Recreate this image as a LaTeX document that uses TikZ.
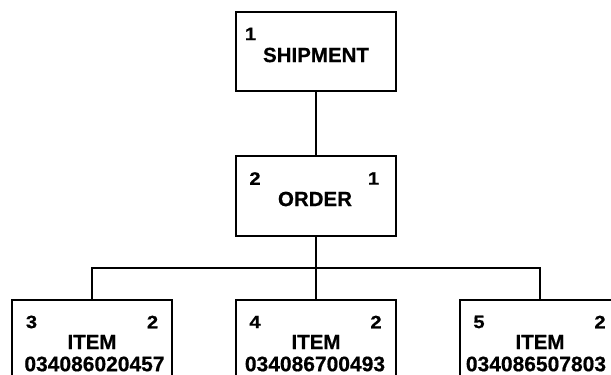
\documentclass[tikz,border=0pt]{standalone}
\usepackage{fontspec}
\setmainfont{Liberation Sans}
\newfontfamily\numfont[FakeStretch=1.12,FakeBold=0.6]{Liberation Sans}
\newfontfamily\codefont[FakeBold=0.6]{Liberation Sans}
\newfontfamily\titlefont[FakeBold=0.6]{Liberation Sans}
\begin{document}
\begin{tikzpicture}[x=1pt,y=-1pt,line width=2pt,
  box/.style={draw,rectangle,minimum width=160pt,minimum height=79pt,inner sep=0pt},
  title/.style={inner sep=0pt,font=\titlefont\fontsize{20.5}{22}\selectfont\bfseries},
  code/.style={inner sep=0pt,font=\codefont\fontsize{21}{23}\selectfont\bfseries},
  num/.style={inner sep=0pt,font=\numfont\fontsize{18}{20}\selectfont\bfseries}]
\clip (0,0) rectangle (611,375);
% shipment
\node[box] (ship) at (316,51.5) {};
\node[num] (shipno) at (250.5,34) {1};
\node[title] (shipname) at (316,55) {SHIPMENT};
% order
\node[box,minimum height=80pt] (order) at (316,196) {};
\node[num] (orderno) at (255,178.5) {2};
\node[num] (orderlvl) at (373.5,178.5) {1};
\node[title] (ordername) at (315,199) {ORDER};
% items
\node[box,minimum height=80pt] (item1) at (92,340) {};
\node[box,minimum height=80pt] (item2) at (316,340) {};
\node[box,minimum height=80pt] (item3) at (540,340) {};
\node[num] (item1no) at (31.5,322) {3};
\node[num] (item1lvl) at (152.5,322) {2};
\node[num] (item2no) at (255,322) {4};
\node[num] (item2lvl) at (376,322) {2};
\node[num] (item3no) at (479,322) {5};
\node[num] (item3lvl) at (600,322) {2};
\node[title] (item1name) at (92,342) {ITEM};
\node[title] (item2name) at (316,342) {ITEM};
\node[title] (item3name) at (540,342) {ITEM};
\node[code] (item1code) at (94.5,364) {034086020457};
\node[code] (item2code) at (315,364) {034086700493};
\node[code] (item3code) at (536,364) {034086507803};
% connectors
\coordinate (bus) at (316,268);
\draw (ship.south) -- (order.north);
\draw (order.south) -- (bus);
\draw (bus) -| (item1.north);
\draw (bus) -- (item2.north);
\draw (bus) -| (item3.north);
\end{tikzpicture}
\end{document}
